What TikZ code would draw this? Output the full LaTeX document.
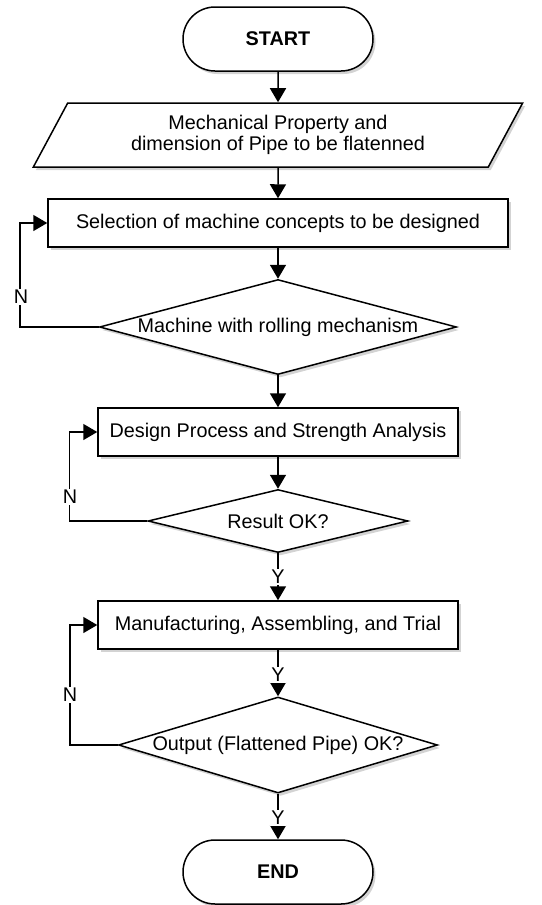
\documentclass[tikz,border=0pt]{standalone}
\usepackage{fontspec}
\setmainfont{Liberation Sans}
\usetikzlibrary{shapes.geometric,shapes.misc,shadows,arrows.meta}
\begin{document}
\begin{tikzpicture}[x=1pt,y=-1pt,
  font=\fontsize{19.8}{21.5}\selectfont,
  line width=1.5pt,
  softshadow/.style={drop shadow={shadow xshift=2.5pt,shadow yshift=-3pt,opacity=0.35}},
  term/.style={rounded rectangle, draw, fill=white, softshadow, minimum width=190pt,
    minimum height=64pt, inner sep=0pt, font=\fontsize{19.8}{21.5}\selectfont\bfseries},
  proc/.style={rectangle, draw, fill=white, softshadow, minimum height=48pt, inner sep=0pt},
  io/.style={trapezium, trapezium left angle=59, trapezium right angle=121,
    trapezium stretches=true, draw, fill=white, softshadow, minimum width=491pt,
    minimum height=64pt, inner sep=0pt, align=center},
  decision/.style={diamond, draw, fill=white, softshadow, inner sep=0pt},
  lab/.style={fill=white, inner sep=1pt},
  flow/.style={-{Triangle[length=14pt,width=16pt]}},
]
\useasboundingbox (0,0) rectangle (541,905);

% shapes of the flow
\node[term] (start) at (278,39) {START};
\node[io] (io) at (278,135) {Mechanical Property and\\dimension of Pipe to be flatenned};
\node[proc, minimum width=460pt] (sel) at (278,223) {Selection of machine concepts to be designed};
\node[decision, minimum width=357pt, minimum height=95pt] (d1) at (278,327) {};
\node (d1t) at (d1) {Machine with rolling mechanism};
\node[proc, minimum width=360pt] (des) at (278,432) {Design Process and Strength Analysis};
\node[decision, minimum width=260pt, minimum height=63pt] (d2) at (278,521) {};
\node (d2t) at (d2) {Result OK?};
\node[proc, minimum width=360pt] (man) at (278,625) {Manufacturing, Assembling, and Trial};
\node[decision, minimum width=319pt, minimum height=96pt] (d3) at (278,745) {};
\node (d3t) at (d3) {Output (Flattened Pipe) OK?};
\node[term] (end) at (278,872) {END};

% main flow
\draw[flow] (start.south) -- (io.north);
\draw[flow] (io.south) -- (sel.north);
\draw[flow] (sel.south) -- (d1.north);
\draw[flow] (d1.south) -- (des.north);
\draw[flow] (des.south) -- (d2.north);
\draw[flow] (d2.south) -- (man.north);
\draw[flow] (man.south) -- (d3.north);
\draw[flow] (d3.south) -- (end.north);

% feedback loops
\draw[flow] (d1.west) -- ++(-79,0) |- (sel.west);
\draw[flow] (d2.west) -- ++(-78,0) |- (des.west);
\draw[flow] (d3.west) -- ++(-48,0) |- (man.west);

% branch labels
\node[lab] (n1) at (21,297) {N};
\node[lab] (n2) at (70,497) {N};
\node[lab] (n3) at (70,695) {N};
\node[lab] (y1) at (278,577) {Y};
\node[lab] (y2) at (278,675) {Y};
\node[lab] (y3) at (278,818) {Y};
\end{tikzpicture}
\end{document}
